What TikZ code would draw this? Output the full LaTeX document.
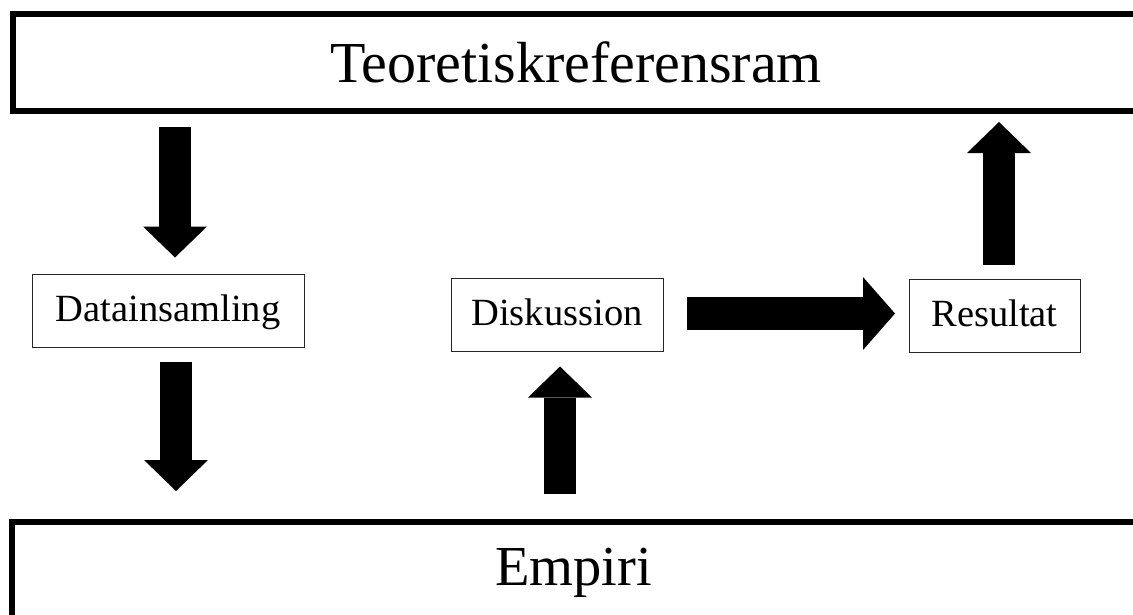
\documentclass[tikz,border=0pt]{standalone}
\usepackage{fontspec}
\setmainfont{Liberation Serif}
\usetikzlibrary{arrows.meta,calc}
\tikzset{
  bigframe/.style={draw=black, line width=6pt, outer sep=0pt, minimum width=1127pt},
  heading/.style={font=\fontsize{58}{66}\selectfont},
  box/.style={draw=black!85, line width=1pt, outer sep=0pt, minimum height=73pt,
    font=\fontsize{38.5}{44}\selectfont, text height=29pt, text depth=8pt},
  fat/.style={line width=32pt, -{Triangle[length=31pt, width=64pt, line width=0pt]}},
  widefat/.style={line width=33pt, -{Triangle[length=32pt, width=73pt, line width=0pt]}}
}

\begin{document}
\begin{tikzpicture}[x=1pt,y=-1pt]
  \useasboundingbox (0,0) rectangle (1133,614);
  \clip (0,0) rectangle (1133,614);
  % outer frames
  \node[bigframe, heading, minimum height=97.5pt] (teori) at (576,62.25) {Teoretiskreferensram};
  \node[bigframe, minimum height=160pt] (empiri) at (575,602) {};
  \node[heading, font=\fontsize{56.5}{64}\selectfont, anchor=base] (empiritext) at (573.5,585) {Empiri};
  % steps
  \node[box, minimum width=272pt] (datain) at (168,311) {Datainsamling};
  \node[box, minimum width=212pt] (diskussion) at (557,315) {Diskussion};
  \node[box, minimum width=171pt] (resultat) at (994.5,315.5) {Resultat};
  % arrow axes
  \coordinate (a1) at (175,0);
  \coordinate (a2) at (176,0);
  \coordinate (a3) at (560,0);
  \coordinate (a4) at (0,313.5);
  \coordinate (a5) at (999,0);
  \draw[fat, shorten <=16pt, shorten >=17pt] (teori.south -| a1) -- (a1 |- datain.north);
  \draw[fat, shorten <=14pt, shorten >=31pt] (a2 |- datain.south) -- (a2 |- empiri.north);
  \draw[fat, shorten <=28pt, shorten >=15pt] (a3 |- empiri.north) -- (a3 |- diskussion.south);
  \draw[widefat, shorten <=24pt, shorten >=14pt] (diskussion.east |- a4) -- (resultat.west |- a4);
  \draw[fat, shorten <=14pt, shorten >=11pt] (a5 |- resultat.north) -- (teori.south -| a5);
\end{tikzpicture}
\end{document}
